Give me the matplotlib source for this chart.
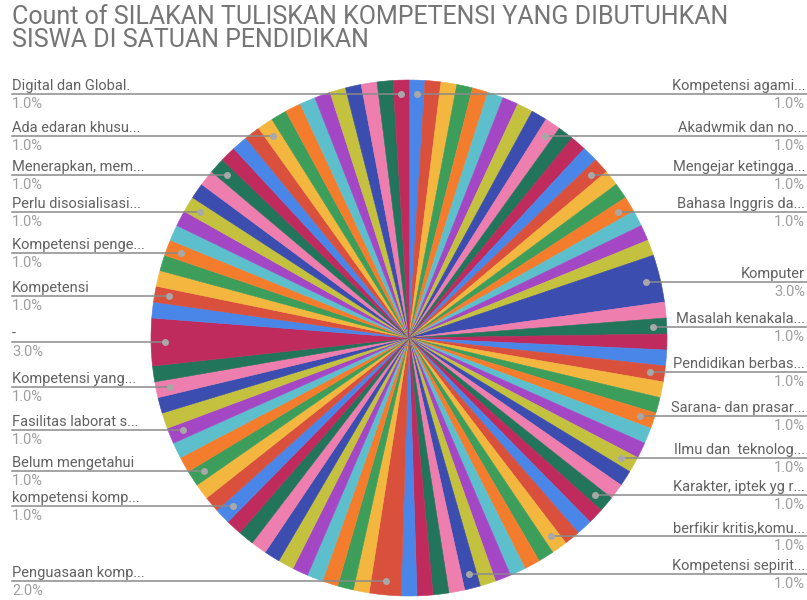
import numpy as np
import matplotlib.pyplot as plt

# one count per response category, in drawing order (clockwise from 12 o'clock)
counts = [1, 1, 1, 1, 1, 1, 1, 1, 1, 1, 1, 1,
          1, 1, 1, 1, 1, 1, 1, 1, 3, 1, 1, 1,
          1, 1, 1, 1, 1, 1, 1, 1, 1, 1, 1, 1,
          1, 1, 1, 1, 1, 1, 1, 1, 1, 1, 1, 1,
          1, 2, 1, 1, 1, 1, 1, 1, 1, 1, 1, 1,
          1, 1, 1, 1, 1, 1, 1, 1, 1, 1, 1, 3,
          1, 1, 1, 1, 1, 1, 1, 1, 1, 1, 1, 1,
          1, 1, 1, 1, 1, 1, 1, 1, 1, 1, 1, 1]

# slices that carry a label, and the (truncated) label text
shown_idx = [0, 9, 13, 16, 20, 22, 25, 28, 31, 34, 38, 44,
             49, 60, 63, 66, 69, 71, 73, 76, 79, 82, 86, 95]
shown_names = ['Kompetensi agami...', 'Akadwmik dan no...', 'Mengejar ketingga...',
               'Bahasa Inggris da...', 'Komputer', 'Masalah kenakala...',
               'Pendidikan berbas...', 'Sarana- dan prasar...', 'Ilmu dan  teknolog...',
               'Karakter, iptek yg r...', 'berfikir kritis,komu...', 'Kompetensi sepirit...',
               'Penguasaan komp...', 'kompetensi komp...', 'Belum mengetahui',
               'Fasilitas laborat s...', 'Kompetensi yang...', '-', 'Kompetensi',
               'Kompetensi penge...', 'Perlu disosialisasi...', 'Menerapkan, mem...',
               'Ada edaran khusu...', 'Digital dan Global.']

palette = ['#4a86e8', '#d9513c', '#f3b63f', '#3d9d5b', '#f47d2d', '#5ebfcc',
           '#a447c5', '#c4c13f', '#3b4dae', '#ee7eae', '#22745a', '#be2b5c']

plt.rcParams['font.family'] = ['Roboto', 'DejaVu Sans']

W, H = 807, 600
fig = plt.figure(figsize=(W / 100, H / 100), dpi=100)
ax = fig.add_axes([0, 0, 1, 1])

cx, cy, R = 409, H - 338, 258
colors = [palette[i % len(palette)] for i in range(len(counts))]
wedges, _ = ax.pie(counts, colors=colors, startangle=90, counterclock=False,
                   center=(cx, cy), radius=R)
for w in wedges:
    w.set_edgecolor(w.get_facecolor())
    w.set_linewidth(0.4)

total = sum(counts)
for idx, name in zip(shown_idx, shown_names):
    w = wedges[idx]
    mid = np.deg2rad((w.theta1 + w.theta2) / 2)
    dx = cx + 0.945 * R * np.cos(mid)
    dy = cy + 0.945 * R * np.sin(mid)
    pct = '%.1f%%' % (counts[idx] / total * 100)
    ax.plot(dx, dy, 'o', color='#a8a8a8', ms=4, zorder=4)
    if np.cos(mid) > 0:
        ax.plot([dx, W], [dy, dy], color='#8a8a8a', lw=1.1, zorder=3)
        tx, ha = W - 2, 'right'
    else:
        ax.plot([12, dx], [dy, dy], color='#8a8a8a', lw=1.1, zorder=3)
        tx, ha = 12, 'left'
    ax.text(tx, dy + 4, name, ha=ha, va='baseline', fontsize=10.5, color='#616161')
    ax.text(tx, dy - 3, pct, ha=ha, va='top', fontsize=10.5, color='#9e9e9e')

ax.set_xlim(0, W)
ax.set_ylim(0, H)
ax.axis('off')

fig.text(12 / W, 1 - 5 / H, 'Count of SILAKAN TULISKAN KOMPETENSI YANG DIBUTUHKAN\nSISWA DI SATUAN PENDIDIKAN',
         ha='left', va='top', fontsize=18, color='#757575', linespacing=0.95)

fig.savefig('out.png', dpi=100)
